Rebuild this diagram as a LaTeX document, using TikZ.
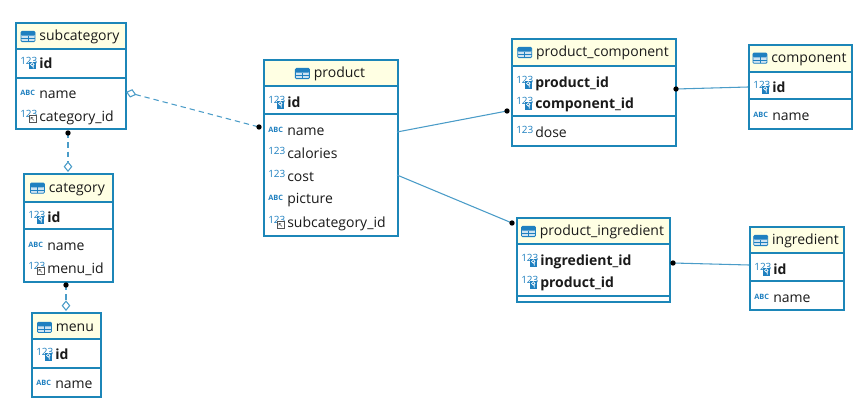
\documentclass[tikz,border=0pt]{standalone}
\usepackage{fontspec}
\setmainfont{Open Sans}
\usetikzlibrary{arrows.meta}
\definecolor{bord}{HTML}{1C86B8}
\definecolor{lnk}{HTML}{4A9CC8}
\definecolor{hdr}{HTML}{FFFFE3}
\definecolor{icb}{HTML}{1F80C0}
\definecolor{txt}{HTML}{1A1A1A}
\tikzset{
  tbl/.style={draw=bord, line width=1.5pt, anchor=north west, inner sep=0pt},
  sepl/.style={draw=bord, line width=0.9pt},
  col/.style={anchor=base west, inner sep=0pt, yshift=-1.1pt, font=\fontsize{10.5}{12}\selectfont, text=txt},
  pkcol/.style={col, font=\fontsize{10.5}{12}\selectfont\bfseries},
  ttl/.style={inner sep=0pt, yshift=-1pt, font=\fontsize{10.5}{12}\selectfont, text=txt},
  icnum/.style={inner sep=0pt, anchor=west, text=icb, font=\fontsize{7.5}{8}\selectfont},
  icabc/.style={inner sep=0pt, anchor=west, text=icb, font=\fontsize{5.5}{6}\selectfont\bfseries},
  rel/.style={draw=lnk, line width=0.8pt},
  dsh/.style={rel, dash pattern=on 4pt off 3pt},
}
\newcommand\tabicon{\tikz[baseline=0pt]{%
  \draw[icb, fill=icb!22, line width=0.6pt, rounded corners=0.8pt] (0pt,-0.5pt) rectangle (10.5pt,7.2pt);
  \fill[icb, rounded corners=0.8pt] (0pt,4pt) rectangle (10.5pt,7.2pt);
  \draw[icb, line width=0.5pt] (5.25pt,-0.5pt) -- (5.25pt,4pt) (0pt,1.8pt) -- (10.5pt,1.8pt);}}
% table frame: name, left, top, right, bottom, header bottom
\newcommand\tframe[6]{%
  \fill[hdr] (#2,#3) rectangle (#4,#6);
  \node[tbl, minimum width={(#4-#2)*0.75pt}, minimum height={(#5-#3)*0.75pt}] (#1) at (#2,#3) {};
  \draw[sepl] (#2,#6) -- (#4,#6);}
\newcommand\tsep[3]{\draw[sepl] (#1,#3) -- (#2,#3);}
% title: name, left, right, y, text
\newcommand\ttitle[5]{\node[ttl] (#1) at ({(#2+#3)/2},#4) {\tabicon\hspace{3pt}#5};}
% icons: x, y
\newcommand\ipk[2]{%
  \node[icnum] at (#1,#2-2) {123};
  \fill[icb] (#1+9,#2-1) rectangle (#1+16,#2+6.5);
  \draw[white, line width=0.5pt] (#1+12.3,#2+1.4) circle (1.3pt) (#1+13.3,#2+2.5) -- (#1+13.3,#2+5.5);}
\newcommand\ifk[2]{%
  \node[icnum] at (#1,#2-2) {123};
  \draw[txt!75, fill=white, line width=0.45pt] (#1+9,#2-0.5) rectangle (#1+16,#2+6.5);
  \draw[txt!75, line width=0.45pt] (#1+10.8,#2+1.3) -- (#1+14,#2+4.5) (#1+10.8,#2+1.3) -- (#1+13.2,#2+1.3) (#1+10.8,#2+1.3) -- (#1+10.8,#2+3.7);}
\newcommand\inum[2]{\node[icnum] at (#1,#2-2) {123};}
\newcommand\iabc[2]{\node[icabc] at (#1,#2-0.5) {ABC};}
\begin{document}
\begin{tikzpicture}[x=0.75pt, y=-0.75pt]
\useasboundingbox[fill=white] (0,0) rectangle (866,410);

% subcategory
\tframe{subcategory}{15}{22}{125}{128}{49}
\ttitle{subcategory-t}{15}{125}{36}{subcategory}
\ipk{20}{63}\node[pkcol] (sc1) at (39,67) {id};
\tsep{15}{125}{78}
\iabc{20}{93}\node[col] (sc2) at (39,97) {name};
\ifk{20}{116}\node[col] (sc3) at (39,120) {category\_id};

% category
\tframe{category}{23}{173}{112}{281}{202}
\ttitle{category-t}{23}{112}{188}{category}
\ipk{28}{217}\node[pkcol] (ca1) at (47,221) {id};
\tsep{23}{112}{229}
\iabc{28}{245}\node[col] (ca2) at (47,249) {name};
\ifk{28}{268}\node[col] (ca3) at (47,272) {menu\_id};

% menu
\tframe{menu}{31}{312}{100}{396}{339}
\ttitle{menu-t}{31}{100}{326}{menu}
\ipk{36}{354}\node[pkcol] (me1) at (55,358) {id};
\tsep{31}{100}{368}
\iabc{36}{383}\node[col] (me2) at (55,387) {name};

% product
\tframe{product}{263}{59}{397}{235}{86}
\ttitle{product-t}{263}{397}{73}{product}
\ipk{268}{102}\node[pkcol] (pr1) at (287,106) {id};
\tsep{263}{397}{114}
\iabc{268}{130}\node[col] (pr2) at (287,134) {name};
\inum{268}{153}\node[col] (pr3) at (287,157) {calories};
\inum{268}{176}\node[col] (pr4) at (287,180) {cost};
\iabc{268}{198}\node[col] (pr5) at (287,202) {picture};
\ifk{268}{222}\node[col] (pr6) at (287,226) {subcategory\_id};

% product_component
\tframe{pcomp}{511}{38}{675}{145}{66}
\ttitle{pcomp-t}{511}{675}{52}{product\_component}
\ipk{516}{82}\node[pkcol] (pc1) at (535,86) {product\_id};
\ipk{516}{103}\node[pkcol] (pc2) at (535,107) {component\_id};
\tsep{511}{675}{116}
\inum{516}{132}\node[col] (pc3) at (535,136) {dose};

% component
\tframe{component}{748}{44}{851}{128}{72}
\ttitle{component-t}{748}{851}{58}{component}
\ipk{753}{87}\node[pkcol] (co1) at (772,91) {id};
\tsep{748}{851}{99}
\iabc{753}{115}\node[col] (co2) at (772,119) {name};

% product_ingredient
\tframe{ping}{516}{217}{669}{301}{244}
\ttitle{ping-t}{516}{669}{231}{product\_ingredient}
\ipk{521}{260}\node[pkcol] (pi1) at (540,264) {ingredient\_id};
\ipk{521}{282}\node[pkcol] (pi2) at (540,286) {product\_id};
\tsep{516}{669}{296}

% ingredient
\tframe{ingredient}{749}{226}{843}{309}{253}
\ttitle{ingredient-t}{749}{843}{240}{ingredient}
\ipk{754}{269}\node[pkcol] (in1) at (773,273) {id};
\tsep{749}{843}{281}
\iabc{754}{297}\node[col] (in2) at (773,301) {name};

% connector end points
\coordinate (c1a) at (126,92);  \coordinate (c1b) at (259,127);
\coordinate (c2a) at (68,133);  \coordinate (c2b) at (68,172);
\coordinate (c3a) at (66,285);  \coordinate (c3b) at (66,311);
\coordinate (c4a) at (397,132); \coordinate (c4b) at (507,111);
\coordinate (c5a) at (397,175); \coordinate (c5b) at (512,223);
\coordinate (c6a) at (676,89);  \coordinate (c6b) at (748,87);
\coordinate (c7a) at (673,263); \coordinate (c7b) at (749,265);

\draw[dsh, {Diamond[fill=white, length=8pt, width=6.5pt]}-] (c1a) -- (c1b);
\draw[dsh, -{Diamond[fill=white, length=8pt, width=6.5pt]}] (c2a) -- (c2b);
\draw[dsh, -{Diamond[fill=white, length=8pt, width=6.5pt]}] (c3a) -- (c3b);
\draw[rel] (c4a) -- (c4b);
\draw[rel] (c5a) -- (c5b);
\draw[rel] (c6a) -- (c6b);
\draw[rel] (c7a) -- (c7b);
\foreach \d in {c1b,c2a,c3a,c4b,c5b,c6a,c7a} \fill[black] (\d) circle (2pt);
\end{tikzpicture}
\end{document}
